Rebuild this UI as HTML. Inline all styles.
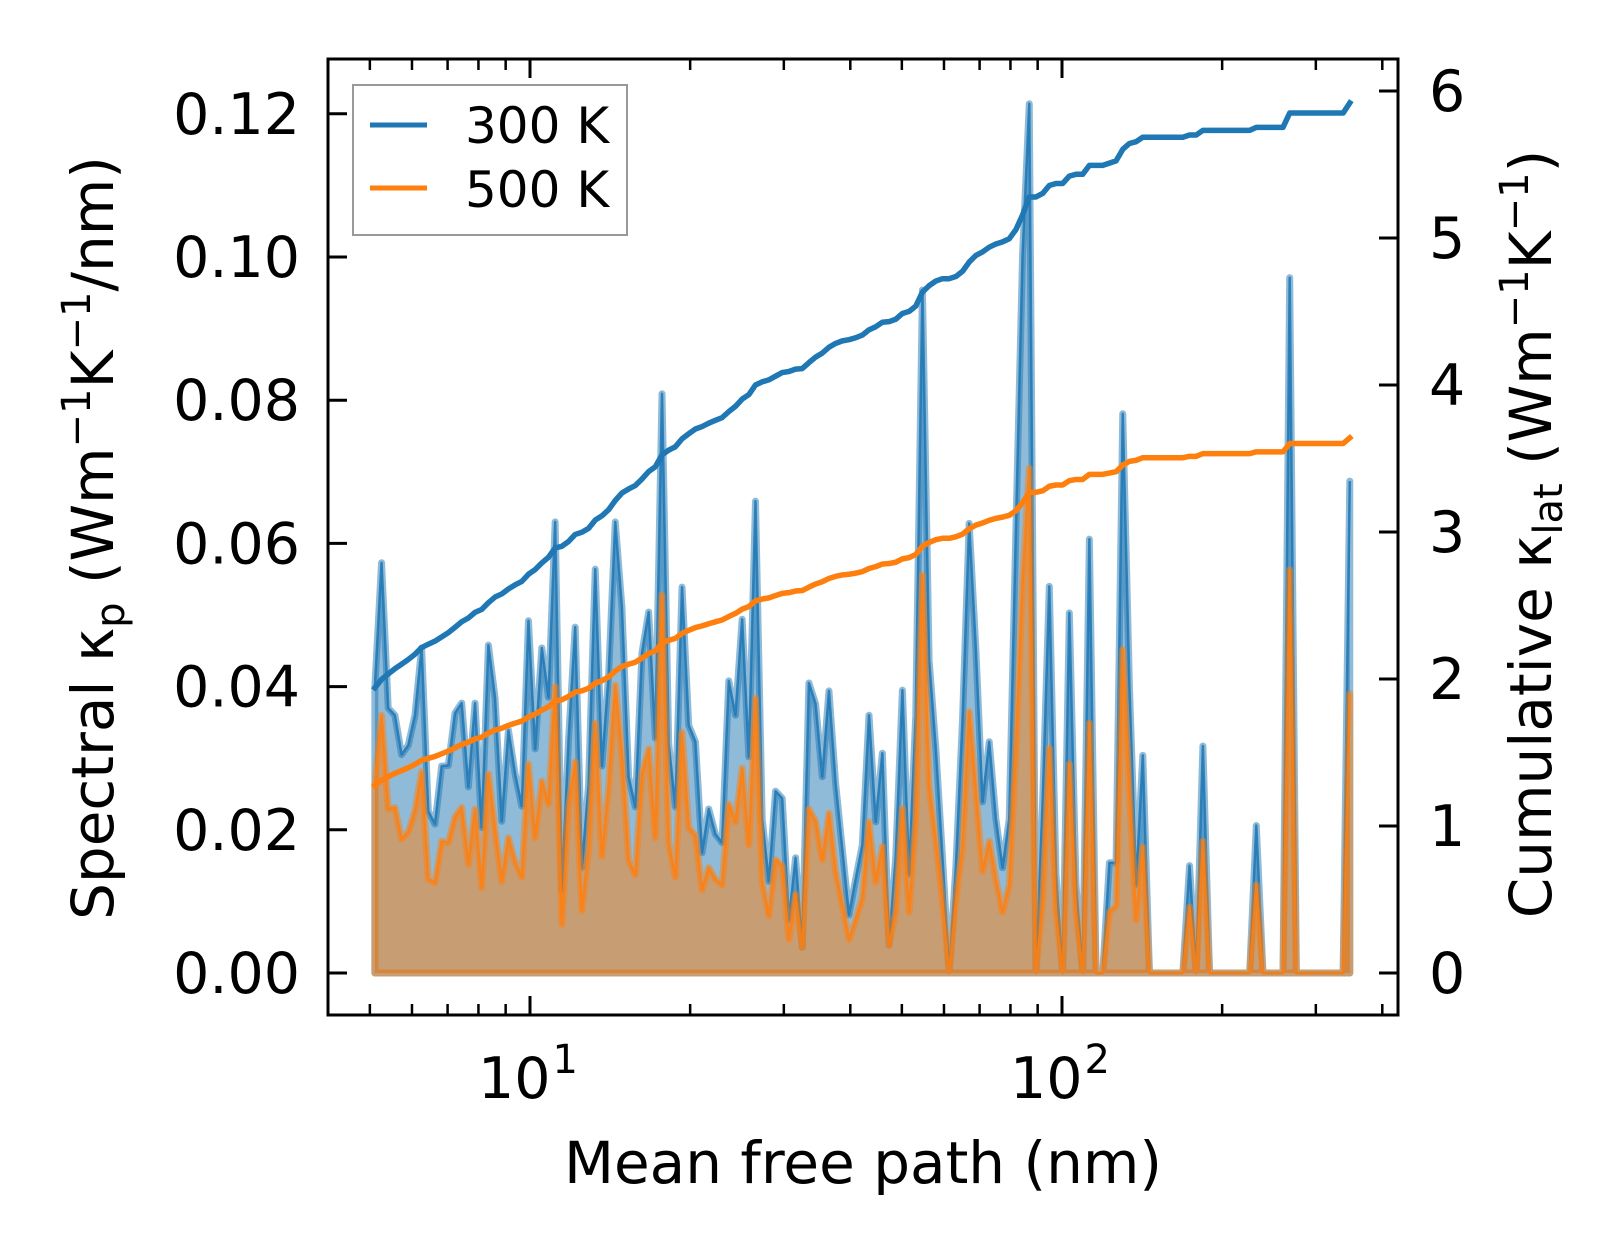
<!DOCTYPE html>
<html><head><meta charset="utf-8">
<style>
html,body{margin:0;padding:0;background:#fff;}
svg{display:block;font-family:"DejaVu Sans","Liberation Sans",sans-serif;}
</style></head>
<body>
<svg id="chart" width="1623" height="1254" viewBox="0 0 1623 1254" xmlns="http://www.w3.org/2000/svg">
<defs><clipPath id="plotclip"><rect x="328" y="59" width="1070" height="956"/></clipPath></defs>
<g id="plot" clip-path="url(#plotclip)"></g>
<g id="axes"></g>
</svg>
<script>
const mfpStart = 5.11;
const mfpEnd = 347.5;
const spectral300 = [0.0400,0.0573,0.0370,0.0360,0.0305,0.0318,0.0360,0.0454,0.0226,0.0208,0.0289,0.0290,0.0363,0.0377,0.0260,0.0377,0.0203,0.0458,0.0384,0.0212,0.0339,0.0278,0.0233,0.0492,0.0313,0.0454,0.0385,0.0630,0.0116,0.0325,0.0483,0.0147,0.0263,0.0564,0.0289,
0.0415,0.0630,0.0510,0.0274,0.0232,0.0447,0.0504,0.0328,0.0809,0.0320,0.0232,0.0539,0.0346,0.0323,0.0168,0.0229,0.0194,0.0182,0.0408,0.0360,0.0494,0.0302,0.0659,0.0215,0.0128,0.0254,0.0244,0.0074,0.0161,0.0036,0.0405,0.0376,0.0274,0.0394,0.0265,0.0173,0.0081,0.0131,0.0179,
0.0360,0.0211,0.0307,0.0039,0.0162,0.0395,0.0138,0.0360,0.0954,0.0437,0.0314,0.0162,0.0,0.0147,0.0353,0.0628,0.0453,0.0239,0.0323,0.0215,0.0147,0.0215,0.0621,0.1004,0.1214,0.0,0.0239,0.0540,0.0138,0.0,0.0503,0.0123,0.0,0.0606,0.0,0.0,0.0154,0.0154,
0.0781,0.0400,0.0123,0.0304,0,0,0,0,0,0,0.0150,0,0.0317,0,0,0,0,0,0,0,0.0206,0,0,0,0,0.0971,0,0,0,0,0,0,0,0,0.0687];
const spectral500 = [0.0263,0.0360,0.0229,0.0231,0.0187,0.0197,0.0226,0.0281,0.0131,0.0126,0.0184,0.0182,0.0218,0.0231,0.0152,0.0229,0.0119,0.0278,0.0200,0.0128,0.0189,0.0155,0.0134,0.0292,0.0189,0.0268,0.0236,0.0400,0.0068,0.0231,0.0295,0.0087,0.0173,0.0349,0.0163,
0.0260,0.0402,0.0304,0.0158,0.0137,0.0278,0.0313,0.0189,0.0528,0.0182,0.0134,0.0336,0.0203,0.0192,0.0116,0.0147,0.0131,0.0123,0.0236,0.0211,0.0286,0.0179,0.0384,0.0128,0.0080,0.0158,0.0150,0.0047,0.0110,0.0036,0.0229,0.0212,0.0158,0.0223,0.0142,0.0095,0.0047,0.0074,0.0105,
0.0211,0.0127,0.0177,0.0039,0.0085,0.0230,0.0085,0.0215,0.0556,0.0261,0.0184,0.0100,0,0.0100,0.0177,0.0365,0.0254,0.0142,0.0184,0.0131,0.0085,0.0123,0.0314,0.0545,0.0705,0,0.0100,0.0314,0.0085,0,0.0292,0.0085,0,0.0349,0,0,0.0085,0.0094,
0.0452,0.0250,0.0074,0.0176,0,0,0,0,0,0,0.0092,0,0.0184,0,0,0,0,0,0,0,0.0123,0,0,0,0,0.0563,0,0,0,0,0,0,0,0,0.0390];
const cumOffset300 = 1.90;
const cumOffset500 = 1.25;
const leftTicks = [0,0.02,0.04,0.06,0.08,0.10,0.12];
const rightTicks = [0,1,2,3,4,5,6];
const xMajor = [10,100];
const xMinor = [5,6,7,8,9,20,30,40,50,60,70,80,90,200,300,400];

const NS = "http://www.w3.org/2000/svg";
const X0=328, X1=1398, Y0=59, Y1=1015;
function xs(m){return 530 + 532*(Math.log10(m)-1);}
function yl(v){return 973 - v*7160;}
function yr(v){return 973 - v*147;}
function mk(tag, attrs, parent){const e=document.createElementNS(NS,tag);for(const k in attrs)e.setAttribute(k,attrs[k]);parent.appendChild(e);return e;}
const plot=document.getElementById('plot'), axes=document.getElementById('axes');
const n = spectral300.length;
const lo=Math.log10(mfpStart), hi=Math.log10(mfpEnd);
const mfp = spectral300.map((_,i)=>Math.pow(10, lo+(hi-lo)*i/(n-1)));

function drawSeries(vals, color, name){
  const pts = vals.map((v,i)=>xs(mfp[i]).toFixed(2)+','+yl(v).toFixed(2));
  const poly = xs(mfp[0]).toFixed(2)+','+yl(0)+' '+pts.join(' ')+' '+xs(mfp[n-1]).toFixed(2)+','+yl(0);
  const f = mk('polygon',{points:poly,fill:color,'fill-opacity':0.5,stroke:color,'stroke-opacity':0.5,'stroke-width':7,'stroke-linejoin':'round'},plot);
  
  
  const l = mk('polyline',{points:pts.join(' '),fill:'none',stroke:color,'stroke-opacity':0.85,'stroke-width':2.5,'stroke-linejoin':'round'},plot);
  
  
}
drawSeries(spectral300,'#1f77b4','spectral-300k');
drawSeries(spectral500,'#ff7f0e','spectral-500k');

function drawCum(vals, off, color, name){
  let s=off; const pts=[];
  vals.forEach((v,i)=>{s+=v;pts.push(xs(mfp[i]).toFixed(2)+','+yr(s).toFixed(2));});
  const l = mk('polyline',{points:pts.join(' '),fill:'none',stroke:color,'stroke-width':5.5,'stroke-linejoin':'round','stroke-linecap':'square'},plot);
  
  
}
drawCum(spectral300,cumOffset300,'#1f77b4','cumulative-300k-line');
drawCum(spectral500,cumOffset500,'#ff7f0e','cumulative-500k-line');

const sp = mk('rect',{x:X0,y:Y0,width:X1-X0,height:Y1-Y0,fill:'none',stroke:'#000','stroke-width':3},axes);


leftTicks.forEach(v=>{
  const y=yl(v);
  mk('line',{x1:X0,x2:X0+19,y1:y,y2:y,stroke:'#000','stroke-width':3},axes);
  const t=mk('text',{x:X0-28,y:y+20,'font-size':57,'text-anchor':'end',fill:'#000'},axes);
  t.textContent=v.toFixed(2);
  
  
});
rightTicks.forEach(v=>{
  const y=yr(v);
  mk('line',{x1:X1-19,x2:X1,y1:y,y2:y,stroke:'#000','stroke-width':3},axes);
  const t=mk('text',{x:X1+31,y:y+20,'font-size':57,'text-anchor':'start',fill:'#000'},axes);
  t.textContent=String(v);
  
  
});
xMajor.forEach(m=>{
  const x=xs(m);
  mk('line',{x1:x,x2:x,y1:Y1,y2:Y1-19,stroke:'#000','stroke-width':3},axes);
  mk('line',{x1:x,x2:x,y1:Y0,y2:Y0+19,stroke:'#000','stroke-width':3},axes);
  const t=mk('text',{x:x-2,y:1098,'font-size':57,'text-anchor':'middle',fill:'#000'},axes);
  t.textContent='10';
  const s=mk('tspan',{'font-size':40,dy:-25,dx:2},t); s.textContent=String(Math.round(Math.log10(m)));
  
  
});
xMinor.forEach(m=>{
  const x=xs(m);
  mk('line',{x1:x,x2:x,y1:Y1,y2:Y1-11,stroke:'#000','stroke-width':2.5},axes);
  mk('line',{x1:x,x2:x,y1:Y0,y2:Y0+11,stroke:'#000','stroke-width':2.5},axes);
});
</script>
<div style="position:absolute;left:0;top:0;width:1623px;height:1254px;pointer-events:none">
<svg width="1623" height="1254" style="font-family:'DejaVu Sans','Liberation Sans',sans-serif">
<text x="863" y="1183" font-size="58" text-anchor="middle">Mean free path (nm)</text>
<text transform="translate(113,538) rotate(-90)" font-size="58" text-anchor="middle">Spectral κ<tspan font-size="40" dy="11">p</tspan><tspan dy="-11"> (Wm</tspan><tspan font-size="40" dy="-23">−1</tspan><tspan dy="23">K</tspan><tspan font-size="40" dy="-23">−1</tspan><tspan dy="23">/nm)</tspan></text>
<text transform="translate(1551,534) rotate(-90)" font-size="58" text-anchor="middle">Cumulative κ<tspan font-size="40" dy="11">lat</tspan><tspan dy="-11"> (Wm</tspan><tspan font-size="40" dy="-23">−1</tspan><tspan dy="23">K</tspan><tspan font-size="40" dy="-23">−1</tspan><tspan dy="23">)</tspan></text>
<g>
<rect x="353" y="85" width="274" height="150" fill="#fff" fill-opacity="0.8" stroke="#999" stroke-width="2"/>
<line x1="370" x2="427" y1="125" y2="125" stroke="#1f77b4" stroke-width="5"/>
<text x="465" y="143" font-size="50">300 K</text>
<line x1="370" x2="427" y1="188" y2="188" stroke="#ff7f0e" stroke-width="5"/>
<text x="465" y="207" font-size="50">500 K</text>
</g>
</svg>
</div>
</body></html>
